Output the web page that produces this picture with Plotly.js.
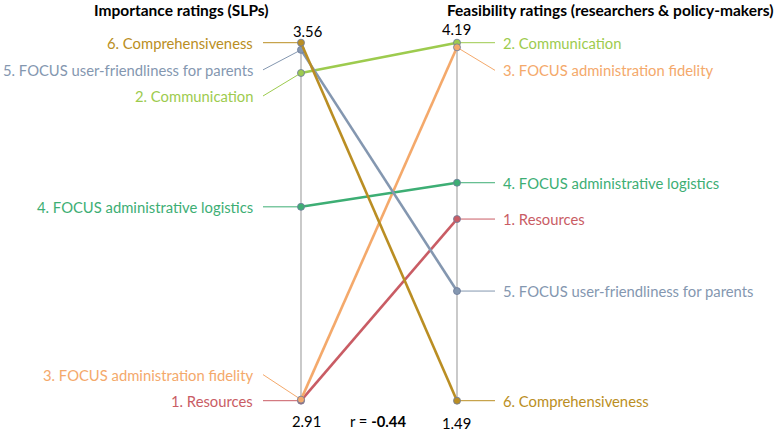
<!DOCTYPE html>
<html><head><meta charset="utf-8">
<script src="https://cdn.plot.ly/plotly-3.0.1.min.js"></script>
<style>html,body{margin:0;padding:0;background:#fff}#chart{width:778px;height:431px}</style>
</head><body><div id="chart"></div>
<script>
const criteria = ['1. Resources','2. Communication','3. FOCUS administration fidelity','4. FOCUS administrative logistics','5. FOCUS user-friendliness for parents','6. Comprehensiveness'];
const importance = [2.91, 3.505, 2.912, 3.262, 3.547, 3.56];
const feasibility = [2.86, 4.19, 4.155, 3.134, 2.317, 1.49];
const colors = ['#C95C64','#9DCB4E','#F4A96B','#3DAE74','#8497B0','#BA8E23'];
const leftTitle = 'Importance ratings (SLPs)';
const rightTitle = 'Feasibility ratings (researchers &amp; policy-makers)';
const corrText = 'r = <b>-0.44</b>';

// label vertical offsets in pixels (to avoid overlaps)
const leftLabelShift = [0, 23, -25, 0, 20, 0];
const rightLabelShift = [0, 0, 23, 0, 0, 0];

const W = 778, H = 431;
const axL = 301, axR = 457, yTop = 42.7, yBot = 400.7;
const pxX = 1/(axR-axL), pxY = 1/(yBot-yTop);
const lMin = Math.min(...importance), lMax = Math.max(...importance);
const rMin = Math.min(...feasibility), rMax = Math.max(...feasibility);
const nL = v => (v-lMin)/(lMax-lMin);
const nR = v => (v-rMin)/(rMax-rMin);
const X = px => (px-axL)*pxX;
const Y = py => (yBot-py)*pxY;
const fam = 'Lato, "Open Sans", sans-serif';
const fs = 14.8;

const traces = criteria.map((c,i)=>({
  x:[0,1], y:[nL(importance[i]), nR(feasibility[i])],
  type:'scatter', mode:'lines+markers', name:c,
  line:{color:colors[i], width:2.6},
  marker:{color:colors[i], size:7, line:{color:'rgba(110,125,155,0.85)', width:1}},
  hoverinfo:'name'
}));

const shapes = [
  {type:'line', xref:'x', yref:'y', x0:0, x1:0, y0:0, y1:1, line:{color:'#A6A6A6', width:1.2}, layer:'below'},
  {type:'line', xref:'x', yref:'y', x0:1, x1:1, y0:0, y1:1, line:{color:'#A6A6A6', width:1.2}, layer:'below'}
];
const ann = [];
criteria.forEach((c,i)=>{
  const yl = nL(importance[i]), yr = nR(feasibility[i]);
  const yll = yl - leftLabelShift[i]*pxY, yrl = yr - rightLabelShift[i]*pxY;
  shapes.push({type:'line', xref:'x', yref:'y', x0:X(263), y0:yll, x1:0, y1:yl, line:{color:colors[i], width:1}, layer:'below'});
  shapes.push({type:'line', xref:'x', yref:'y', x0:1, y0:yr, x1:X(495), y1:yrl, line:{color:colors[i], width:1}, layer:'below'});
  ann.push({xref:'x', yref:'y', x:X(255), y:yll, text:c, showarrow:false, xanchor:'right', yanchor:'middle', font:{family:fam, size:fs, color:colors[i]}});
  ann.push({xref:'x', yref:'y', x:X(501), y:yrl, text:c, showarrow:false, xanchor:'left', yanchor:'middle', font:{family:fam, size:fs, color:colors[i]}});
});
ann.push({xref:'x', yref:'y', x:X(181), y:Y(10), text:'<b>'+leftTitle+'</b>', showarrow:false, xanchor:'center', yanchor:'middle', font:{family:fam, size:15.5, color:'#000'}});
ann.push({xref:'x', yref:'y', x:X(610), y:Y(10), text:'<b>'+rightTitle+'</b>', showarrow:false, xanchor:'center', yanchor:'middle', font:{family:fam, size:15.5, color:'#000'}});
ann.push({xref:'x', yref:'y', x:X(307), y:Y(31), text:lMax.toFixed(2), showarrow:false, xanchor:'center', yanchor:'middle', font:{family:fam, size:fs, color:'#000'}});
ann.push({xref:'x', yref:'y', x:X(306), y:Y(421), text:lMin.toFixed(2), showarrow:false, xanchor:'center', yanchor:'middle', font:{family:fam, size:fs, color:'#000'}});
ann.push({xref:'x', yref:'y', x:X(456), y:Y(29), text:rMax.toFixed(2), showarrow:false, xanchor:'center', yanchor:'middle', font:{family:fam, size:fs, color:'#000'}});
ann.push({xref:'x', yref:'y', x:X(456), y:Y(423), text:rMin.toFixed(2), showarrow:false, xanchor:'center', yanchor:'middle', font:{family:fam, size:fs, color:'#000'}});
ann.push({xref:'x', yref:'y', x:X(378), y:Y(421), text:corrText, showarrow:false, xanchor:'center', yanchor:'middle', font:{family:fam, size:fs, color:'#000'}});

const layout = {
  width:W, height:H, margin:{l:0,r:0,t:0,b:0}, showlegend:false,
  paper_bgcolor:'#fff', plot_bgcolor:'#fff',
  xaxis:{range:[X(0), X(W)], visible:false, fixedrange:true},
  yaxis:{range:[Y(H), Y(0)], visible:false, fixedrange:true},
  shapes:shapes, annotations:ann
};
Plotly.newPlot('chart', traces, layout, {displayModeBar:false, staticPlot:true});
</script></body></html>
